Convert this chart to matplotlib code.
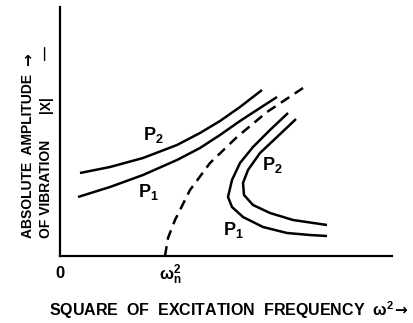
import matplotlib
matplotlib.use("Agg")
import matplotlib.pyplot as plt

plt.rcParams["font.family"] = ["Liberation Sans", "DejaVu Sans"]
plt.rcParams["font.weight"] = "bold"
plt.rcParams["mathtext.fontset"] = "custom"
plt.rcParams["mathtext.rm"] = "Liberation Sans:bold"
plt.rcParams["mathtext.it"] = "Liberation Sans:bold"
plt.rcParams["mathtext.default"] = "regular"

# ------------------------------------
# curve points
# ------------------------------------
p2_upper_x = [20, 50, 83, 117, 140, 160, 180, 202]
p2_upper_y = [83, 89, 98, 111, 123, 135, 149, 166]

p1_upper_x = [18, 50, 83, 117, 140, 160, 180, 200, 217]
p1_upper_y = [59, 69, 81, 96, 108, 121, 135, 148, 159]

backbone_x = [105, 108, 115, 130, 150, 177, 207, 243]
backbone_y = [0, 18, 36, 66, 93, 119, 144, 168]

p1_lower_x = [228, 210, 193, 180, 172, 168, 172, 183, 203, 227, 250, 267]
p1_lower_y = [143, 126, 109, 93, 76, 59, 49, 39, 29, 23, 21, 20]

p2_lower_x = [236, 217, 200, 188, 183, 184, 193, 210, 233, 267]
p2_lower_y = [137, 119, 103, 86, 73, 61, 51, 43, 36, 31]

# curve labels: text, x, y
curve_labels = [
    ("P$_2$", 93, 121),
    ("P$_1$", 88, 64),
    ("P$_2$", 212, 91),
    ("P$_1$", 173, 26),
]

fig = plt.figure(figsize=(4.14, 3.23), dpi=100)
ax = fig.add_axes([60 / 414, 67 / 323, 332 / 414, 249 / 323])
ax.set_xlim(0, 332)
ax.set_ylim(0, 249)

for s in ["top", "right"]:
    ax.spines[s].set_visible(False)
for s in ["left", "bottom"]:
    ax.spines[s].set_linewidth(1.6)
ax.set_xticks([])
ax.set_yticks([])

lw = 1.8
for xs, ys in [(p2_upper_x, p2_upper_y), (p1_upper_x, p1_upper_y),
               (p1_lower_x, p1_lower_y), (p2_lower_x, p2_lower_y)]:
    ax.plot(xs, ys, color="black", lw=lw, solid_capstyle="butt",
            solid_joinstyle="round")
ax.plot(backbone_x, backbone_y, color="black", lw=lw, dashes=(4, 2.6))

for txt, x, y in curve_labels:
    ax.text(x, y, txt, fontsize=13, ha="center", va="center")

# labels under the axis
ax.text(0, -17, "0", fontsize=12, ha="center", va="center")
ax.text(110, -19, r"$\omega_n^2$", fontsize=12, ha="center", va="center")

# axis titles
fig.text(222 / 414, 1 - 310 / 323,
         "SQUARE  OF  EXCITATION  FREQUENCY  $\\omega^2$",
         fontsize=11.5, ha="center", va="center")
fig.text(401 / 414, 1 - 310 / 323, "\u2192", family="DejaVu Sans",
         fontsize=11, ha="center", va="center")

ylab = dict(fontsize=10, rotation=90, rotation_mode="anchor",
            ha="left", va="center")
fig.text(28 / 414, 1 - 238 / 323, "ABSOLUTE  AMPLITUDE", **ylab)
fig.text(28 / 414, 1 - 66 / 323, "\u2192", family="DejaVu Sans",
         **dict(ylab, fontsize=11))
fig.text(46 / 414, 1 - 238 / 323, "OF VIBRATION", **ylab)
fig.text(46 / 414, 1 - 113 / 323, "|X|", **ylab)
fig.text(46 / 414, 1 - 60 / 323, "\u2014", **ylab)

fig.savefig("out.png", dpi=100)
